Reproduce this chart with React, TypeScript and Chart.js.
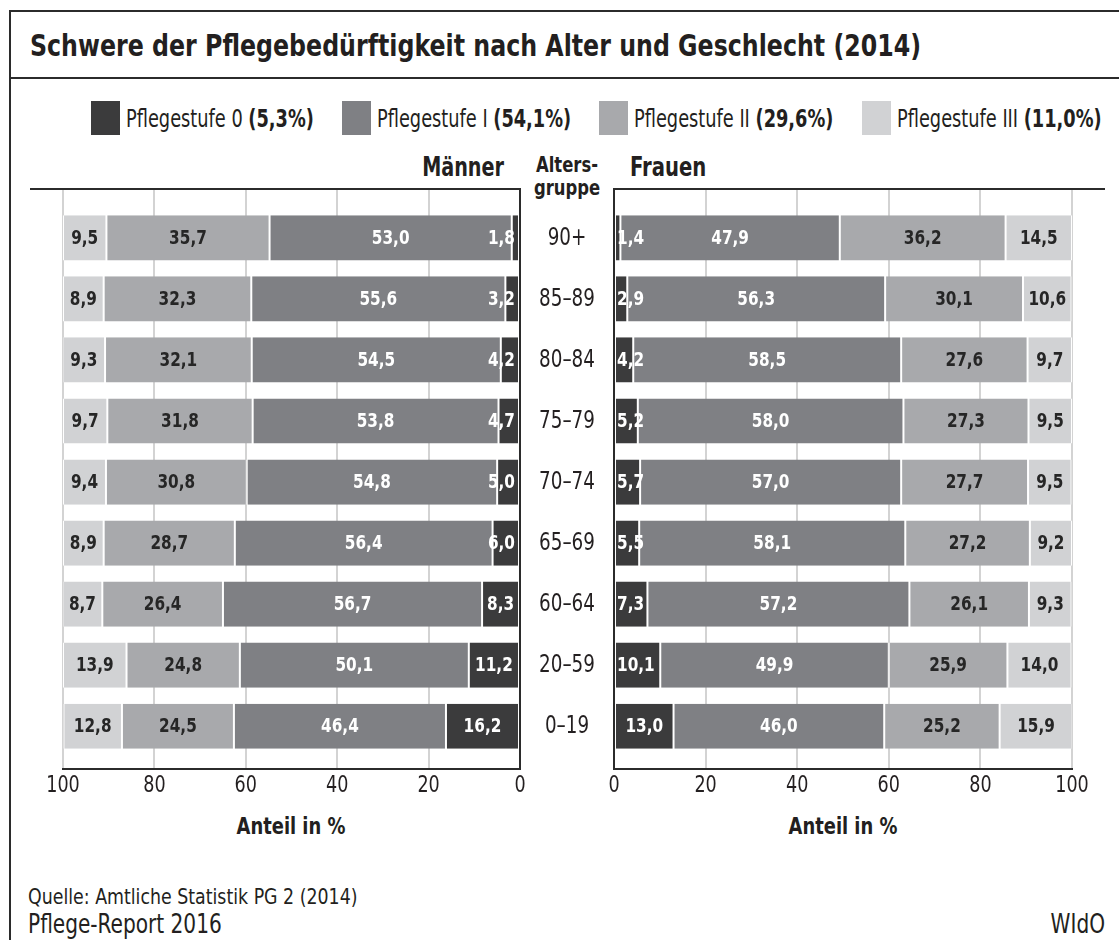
import React, { useEffect, useRef } from 'react';
import { Chart, registerables } from 'chart.js';
Chart.register(...registerables);

const FONT = '"DejaVu Sans Condensed", "DejaVu Sans", sans-serif';
const TEXT = '#231f20';

const ageGroups = ['90+', '85–89', '80–84', '75–79', '70–74', '65–69', '60–64', '20–59', '0–19'];
const seriesNames = ['Pflegestufe 0', 'Pflegestufe I', 'Pflegestufe II', 'Pflegestufe III'];
const seriesTotals = ['(5,3%)', '(54,1%)', '(29,6%)', '(11,0%)'];
const seriesColors = ['#3b3b3c', '#7f8084', '#a8a9ac', '#d1d2d4'];
const xTickValues = [0, 20, 40, 60, 80, 100];

const menStufe0 = [1.8, 3.2, 4.2, 4.7, 5.0, 6.0, 8.3, 11.2, 16.2];
const menStufe1 = [53.0, 55.6, 54.5, 53.8, 54.8, 56.4, 56.7, 50.1, 46.4];
const menStufe2 = [35.7, 32.3, 32.1, 31.8, 30.8, 28.7, 26.4, 24.8, 24.5];
const menStufe3 = [9.5, 8.9, 9.3, 9.7, 9.4, 8.9, 8.7, 13.9, 12.8];

const womenStufe0 = [1.4, 2.9, 4.2, 5.2, 5.7, 5.5, 7.3, 10.1, 13.0];
const womenStufe1 = [47.9, 56.3, 58.5, 58.0, 57.0, 58.1, 57.2, 49.9, 46.0];
const womenStufe2 = [36.2, 30.1, 27.6, 27.3, 27.7, 27.2, 26.1, 25.9, 25.2];
const womenStufe3 = [14.5, 10.6, 9.7, 9.5, 9.5, 9.2, 9.3, 14.0, 15.9];

const menSeries = [menStufe0, menStufe1, menStufe2, menStufe3];
const womenSeries = [womenStufe0, womenStufe1, womenStufe2, womenStufe3];

const SX = 0.85;

function drawScaled(ctx: any, txt: string, x: number, y: number, align: string, sx: number) {
  ctx.save();
  ctx.translate(x, y);
  ctx.scale(sx, 1);
  ctx.textAlign = align;
  ctx.fillText(txt, 0, 0);
  ctx.restore();
}

const framePlugin = {
  id: 'frame',
  afterDatasetsDraw(chart: any, _args: any, opts: any) {
    const { ctx, chartArea: a } = chart;
    const xs = chart.scales.x;
    const zero = xs.getPixelForValue(0);
    ctx.save();
    ctx.strokeStyle = '#2b2b2b';
    ctx.lineWidth = 2;
    ctx.beginPath();
    ctx.moveTo(a.left - (opts.extendLeft || 0), a.top);
    ctx.lineTo(a.right + (opts.extendRight || 0), a.top);
    ctx.moveTo(a.left - 1, a.bottom);
    ctx.lineTo(a.right + 1, a.bottom);
    ctx.moveTo(zero, a.top - 1);
    ctx.lineTo(zero, a.bottom + 1);
    ctx.stroke();
    ctx.fillStyle = TEXT;
    ctx.textBaseline = 'middle';
    ctx.font = `23px ${FONT}`;
    xs.ticks.forEach((t: any) => {
      drawScaled(ctx, String(t.value), xs.getPixelForValue(t.value), a.bottom + 17, 'center', SX);
    });
    if (opts.ageLabels) {
      ctx.font = `24px ${FONT}`;
      opts.ageLabels.forEach((lab: string, i: number) => {
        drawScaled(ctx, lab, a.right + opts.ageOffset, chart.scales.y.getPixelForValue(i) + 1, 'center', SX);
      });
    }
    ctx.restore();
  },
};

const labelPlugin = {
  id: 'barLabels',
  afterDatasetsDraw(chart: any, _args: any, opts: any) {
    const ctx = chart.ctx;
    const zero = chart.scales.x.getPixelForValue(0);
    ctx.save();
    ctx.font = `bold 20px ${FONT}`;
    ctx.textBaseline = 'middle';
    chart.data.datasets.forEach((ds: any, k: number) => {
      const meta = chart.getDatasetMeta(k);
      meta.data.forEach((el: any, i: number) => {
        const { x, y, base } = el.getProps(['x', 'y', 'base'], true);
        const v = ds.data[i].x;
        const txt = v.toFixed(1).replace('.', ',');
        const w = ctx.measureText(txt).width * SX;
        ctx.fillStyle = k < 2 ? '#ffffff' : '#262626';
        let tx = (x + base) / 2;
        let align = 'center';
        if (k === 0 && Math.abs(x - base) < w + 8) {
          if (opts.reversed) {
            align = 'right';
            tx = zero - 5;
          } else {
            align = 'left';
            tx = zero + 3;
          }
        }
        drawScaled(ctx, txt, tx, y + 1, align, SX);
      });
    });
    ctx.restore();
  },
};

function makeConfig(series: number[][], reversed: boolean, padding: any, frameOpts: any) {
  return {
    type: 'bar',
    data: {
      datasets: series.map((vals, k) => ({
        label: seriesNames[k],
        data: vals.map((v, i) => ({ x: v, y: i })),
        backgroundColor: seriesColors[k],
        borderColor: '#ffffff',
        borderWidth: { left: 1, right: 1, top: 0, bottom: 0 },
        borderSkipped: false,
        barPercentage: 0.74,
        categoryPercentage: 1,
      })),
    },
    options: {
      indexAxis: 'y',
      animation: false,
      responsive: false,
      maintainAspectRatio: false,
      events: [],
      layout: { padding },
      scales: {
        x: {
          type: 'linear',
          min: 0,
          max: 100,
          reverse: reversed,
          stacked: true,
          border: { display: false },
          grid: {
            color: (c: any) => (c.tick && c.tick.value === 0 ? 'rgba(0,0,0,0)' : '#d3d3d3'),
            lineWidth: 2,
            drawTicks: false,
          },
          afterBuildTicks: (s: any) => {
            s.ticks = xTickValues.map((v) => ({ value: v }));
          },
          ticks: { display: false },
          afterFit: (s: any) => {
            s.height = 40;
          },
        },
        y: {
          type: 'linear',
          min: -0.8,
          max: 8.7,
          reverse: true,
          stacked: true,
          offset: false,
          display: false,
          afterBuildTicks: (s: any) => {
            s.ticks = ageGroups.map((_g, i) => ({ value: i }));
          },
        },
      },
      plugins: {
        legend: { display: false },
        tooltip: { enabled: false },
        frame: frameOpts,
        barLabels: { reversed },
      },
    },
    plugins: [framePlugin, labelPlugin],
  };
}

function ChartCanvas(props: { left: number; top: number; width: number; height: number; config: any }) {
  const ref = useRef<HTMLCanvasElement>(null);
  useEffect(() => {
    const chart = new Chart(ref.current as HTMLCanvasElement, props.config);
    return () => chart.destroy();
  }, []);
  return (
    <canvas
      ref={ref}
      width={props.width}
      height={props.height}
      style={{ position: 'absolute', left: props.left, top: props.top, width: props.width, height: props.height }}
    />
  );
}

function T(props: { x: number; cy: number; size: number; sx?: number; bold?: boolean; align?: string; children: any }) {
  const { x, cy, size, bold, align, children } = props;
  const sx = props.sx ?? SX;
  let tr = `scaleX(${sx})`;
  let origin = 'left center';
  if (align === 'center') {
    tr = `translateX(-50%) scaleX(${sx})`;
    origin = 'center center';
  } else if (align === 'right') {
    tr = `translateX(-100%) scaleX(${sx})`;
    origin = 'right center';
  }
  return (
    <div
      style={{
        position: 'absolute',
        left: x,
        top: cy - 0.49 * size,
        fontSize: size,
        lineHeight: 1,
        fontWeight: bold ? 'bold' : 'normal',
        fontFamily: FONT,
        color: TEXT,
        whiteSpace: 'nowrap',
        transform: tr,
        transformOrigin: origin,
      }}
    >
      {children}
    </div>
  );
}

const legendX = [91, 342, 599, 862];

export default function App() {
  const menConfig = makeConfig(menSeries, true, { left: 50, right: 80, top: 9, bottom: 0 }, {
    extendLeft: 33,
    extendRight: 0,
    ageLabels: ageGroups,
    ageOffset: 47,
  });
  const womenConfig = makeConfig(womenSeries, false, { left: 14, right: 42, top: 9, bottom: 0 }, {
    extendLeft: 0,
    extendRight: 33,
  });
  return (
    <div style={{ position: 'fixed', left: 0, top: 0, width: 1119, height: 940, overflow: 'hidden', background: '#fff' }}>
      <div
        style={{
          position: 'absolute',
          left: 9,
          top: 10,
          width: 1300,
          height: 1200,
          border: '2px solid #2b2b2b',
          boxSizing: 'border-box',
        }}
      />
      <div style={{ position: 'absolute', left: 9, top: 77, width: 1200, height: 2, background: '#2b2b2b' }} />
      <T x={30} cy={45} size={31} bold>
        Schwere der Pflegebedürftigkeit nach Alter und Geschlecht (2014)
      </T>
      {seriesNames.map((n, k) => (
        <React.Fragment key={n}>
          <div
            style={{
              position: 'absolute',
              left: legendX[k],
              top: 101,
              width: 29,
              height: 34,
              background: seriesColors[k],
            }}
          />
          <T x={legendX[k] + 35} cy={118} size={25} sx={0.79}>
            {n} <b>{seriesTotals[k]}</b>
          </T>
        </React.Fragment>
      ))}
      <T x={504} cy={167} size={26} sx={0.82} bold align="right">
        Männer
      </T>
      <T x={567} cy={165} size={22} sx={0.83} bold align="center">
        Alters-
      </T>
      <T x={567} cy={188} size={22} sx={0.83} bold align="center">
        gruppe
      </T>
      <T x={630} cy={167} size={26} sx={0.84} bold>
        Frauen
      </T>
      <ChartCanvas left={13} top={180} width={587} height={629} config={menConfig} />
      <ChartCanvas left={600} top={180} width={514} height={629} config={womenConfig} />
      <T x={291} cy={826} size={23} sx={0.865} bold align="center">
        Anteil in %
      </T>
      <T x={843} cy={826} size={23} sx={0.865} bold align="center">
        Anteil in %
      </T>
      <T x={28} cy={897} size={21} sx={0.92}>
        Quelle: Amtliche Statistik PG 2 (2014)
      </T>
      <T x={28} cy={924} size={26} sx={0.86}>
        Pflege-Report 2016
      </T>
      <T x={1105} cy={924} size={26} sx={0.86} align="right">
        WIdO
      </T>
    </div>
  );
}
